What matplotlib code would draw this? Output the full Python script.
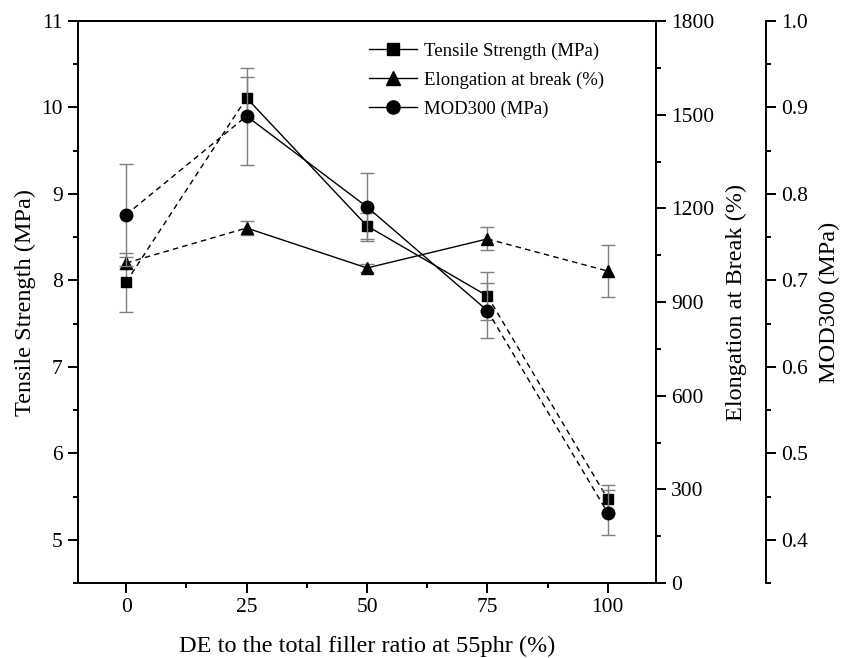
import numpy as np
from matplotlib import pyplot as plt
from matplotlib.lines import Line2D
from matplotlib.ticker import MultipleLocator

plt.rcParams["font.family"] = ["Liberation Serif", "DejaVu Serif"]
plt.rcParams["font.size"] = 13

# DE ratio (%)
x = [0, 25, 50, 75, 100]

tensile = [7.98, 10.11, 8.63, 7.82, 5.47]
tensile_err = [0.34, 0.24, 0.15, 0.28, 0.16]

elongation = [1025, 1137, 1009, 1102, 999]
elongation_err = [19, 22, 12, 37, 82]

mod300 = [0.776, 0.890, 0.785, 0.665, 0.431]
mod300_err = [0.059, 0.056, 0.039, 0.032, 0.026]

# segment styles between neighbouring points
seg_styles = ["--", "-", "-", "--"]

fig = plt.figure(figsize=(8.5, 6.58), dpi=100)
ax = fig.add_axes([78 / 850, 1 - 583 / 658, 578 / 850, 562 / 658])
ax2 = ax.twinx()
ax3 = ax.twinx()
ax3.spines["right"].set_position(("axes", 1.19))
for s in ["top", "bottom", "left"]:
    ax3.spines[s].set_visible(False)

err_color = "#7f7f7f"


def draw(a, y, yerr, marker, ms):
    a.errorbar(x, y, yerr=yerr, fmt="none", ecolor=err_color, elinewidth=1,
               capsize=5, capthick=1, zorder=2)
    for i in range(len(x) - 1):
        a.plot(x[i:i + 2], y[i:i + 2], color="black", lw=1,
               ls=seg_styles[i], dashes=(4, 3) if seg_styles[i] == "--" else (None, None),
               zorder=3)
    a.plot(x, y, ls="none", marker=marker, ms=ms, color="black", zorder=4)


draw(ax, tensile, tensile_err, "s", 7.5)
draw(ax2, elongation, elongation_err, "^", 9)
draw(ax3, mod300, mod300_err, "o", 9)

ax.set_xlim(-10, 110)
ax.set_ylim(4.5, 11)
ax2.set_ylim(0, 1800)
ax3.set_ylim(0.35, 1.0)

ax.xaxis.set_major_locator(MultipleLocator(25))
ax.xaxis.set_minor_locator(MultipleLocator(12.5))
ax.yaxis.set_major_locator(MultipleLocator(1))
ax.yaxis.set_minor_locator(MultipleLocator(0.5))
ax2.yaxis.set_major_locator(MultipleLocator(300))
ax2.yaxis.set_minor_locator(MultipleLocator(150))
ax3.yaxis.set_major_locator(MultipleLocator(0.1))
ax3.yaxis.set_minor_locator(MultipleLocator(0.05))
ax3.yaxis.set_major_formatter(plt.FormatStrFormatter("%.1f"))

for a in (ax, ax2, ax3):
    for s in a.spines.values():
        s.set_linewidth(1.4)
    a.tick_params(which="major", direction="out", length=7, width=1.4, pad=4,
                  labelsize=15.5)
    a.tick_params(which="minor", direction="out", length=3.5, width=1.4)

ax.set_xlabel("DE to the total filler ratio at 55phr (%)", fontsize=17.5, labelpad=13)
ax.set_ylabel("Tensile Strength (MPa)", fontsize=17.5, labelpad=4)
ax2.set_ylabel("Elongation at Break (%)", fontsize=17.5, labelpad=8)
ax3.set_ylabel("MOD300 (MPa)", fontsize=17.5, labelpad=8)

handles = [
    Line2D([], [], color="black", lw=1, marker="s", ms=8),
    Line2D([], [], color="black", lw=1, marker="^", ms=9.5),
    Line2D([], [], color="black", lw=1, marker="o", ms=9.5),
]
labels = ["Tensile Strength (MPa)", "Elongation at break (%)", "MOD300 (MPa)"]
ax.legend(handles, labels, loc="upper left", bbox_to_anchor=(0.48, 0.985),
          frameon=False, fontsize=13.5, handlelength=2.6, handletextpad=0.35,
          labelspacing=0.62, borderaxespad=0.3)

plt.savefig("out.png", dpi=100)
